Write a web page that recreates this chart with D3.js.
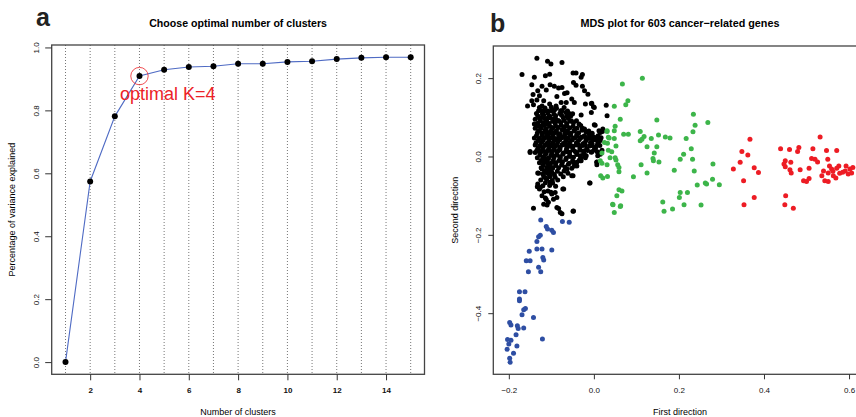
<!DOCTYPE html>
<html>
<head>
<meta charset="utf-8">
<script src="https://cdn.jsdelivr.net/npm/d3@7"></script>
<style>
body { margin: 0; background: #fff; }
svg { display: block; font-family: "Liberation Sans", Arial, sans-serif; }
</style>
</head>
<body>
<div id="viz"></div>
<script>
var width = 856,
  height = 417;

// panel a: elbow curve
var kValues = [1, 2, 3, 4, 5, 6, 7, 8, 9, 10, 11, 12, 13, 14, 15];
var varExplained = [0, 0.574, 0.781, 0.909, 0.929, 0.938, 0.940, 0.948, 0.948, 0.954, 0.956, 0.963, 0.967, 0.969, 0.969];
var optimalK = 4;
var xTicksA = [2, 4, 6, 8, 10, 12, 14];
var yTicksA = [0, 0.2, 0.4, 0.6, 0.8, 1.0];

// panel b: MDS coordinates per cluster [first, second]
var xTicksB = [-0.2, 0, 0.2, 0.4, 0.6];
var yTicksB = [-0.4, -0.2, 0, 0.2];

var blackGenes = [
  [-0.134, 0.251], [-0.109, 0.243], [-0.101, 0.236], [-0.075, 0.240], [-0.169, 0.209], [-0.140, 0.202], [-0.114, 0.206],
  [-0.104, 0.210], [-0.049, 0.213], [-0.042, 0.213], [-0.027, 0.209], [-0.030, 0.202], [-0.146, 0.183], [-0.122, 0.179],
  [-0.103, 0.183], [-0.093, 0.179], [-0.075, 0.176], [-0.048, 0.189], [-0.042, 0.182], [-0.027, 0.179], [-0.132, 0.168],
  [-0.112, 0.170], [-0.083, 0.175], [-0.063, 0.163], [-0.022, 0.168], [-0.014, 0.159], [-0.143, 0.158], [-0.128, 0.155],
  [-0.087, 0.153], [-0.069, 0.161], [-0.146, 0.142], [-0.134, 0.144], [-0.118, 0.142], [-0.052, 0.147], [-0.046, 0.138],
  [-0.077, 0.138], [-0.065, 0.138], [-0.020, 0.134], [-0.006, 0.135], [-0.156, 0.129], [-0.142, 0.132], [-0.122, 0.129],
  [-0.104, 0.134], [-0.089, 0.129], [-0.001, 0.127], [-0.130, 0.117], [-0.114, 0.117], [-0.099, 0.117], [-0.075, 0.117],
  [-0.058, 0.110], [-0.030, 0.106], [-0.006, 0.112], [0.029, 0.131], [-0.138, 0.095], [-0.122, 0.100], [-0.107, 0.100],
  [-0.095, 0.095], [-0.083, 0.091], [-0.053, 0.091], [-0.140, 0.083], [-0.126, 0.078], [-0.110, 0.083], [-0.099, 0.074],
  [-0.069, 0.076], [-0.046, 0.067], [-0.027, 0.072], [0.001, 0.081], [0.012, 0.066], [0.020, 0.064], [-0.130, 0.066],
  [-0.114, 0.061], [-0.103, 0.059], [-0.091, 0.061], [-0.079, 0.057], [-0.063, 0.059], [-0.040, 0.057], [-0.011, 0.057],
  [-0.005, 0.136], [0.001, 0.125], [0.031, 0.104], [0.003, 0.080], [0.021, 0.070], [0.015, 0.061], [0.011, 0.010],
  [0.009, 0.002], [0.007, -0.015], [-0.009, -0.068], [0.000, 0.050], [0.008, 0.040], [0.014, 0.028], [0.004, 0.022],
  [0.012, 0.045], [-0.004, 0.032],
  [-0.118, 0.048], [-0.107, 0.050], [-0.095, 0.047], [-0.083, 0.046], [-0.071, 0.049], [-0.060, 0.047], [-0.044, 0.048],
  [-0.032, 0.046], [-0.020, 0.049], [-0.009, 0.047], [0.003, 0.045], [0.017, 0.048],
  [-0.138, 0.029], [-0.126, 0.027], [-0.114, 0.030], [-0.103, 0.029], [-0.091, 0.028], [-0.075, 0.030], [-0.063, 0.029],
  [-0.051, 0.027], [-0.036, 0.030], [-0.020, 0.029], [-0.005, 0.028],
  [-0.150, 0.013], [-0.132, 0.014], [-0.114, 0.012], [-0.099, 0.013], [-0.083, 0.015], [-0.063, 0.012], [-0.044, 0.013],
  [-0.024, 0.014], [-0.005, 0.012], [0.007, 0.013],
  [-0.118, -0.003], [-0.107, -0.005], [-0.095, 0.002], [-0.079, -0.003], [-0.056, 0.000], [-0.032, 0.002], [-0.030, -0.011],
  [-0.020, -0.003], [0.007, -0.014], [-0.118, -0.015], [-0.107, -0.019], [-0.095, -0.015], [-0.075, -0.014], [-0.048, -0.015],
  [-0.040, -0.024], [-0.122, -0.032], [-0.107, -0.032], [-0.099, -0.028], [-0.063, -0.032], [-0.046, -0.024],
  [-0.132, -0.042], [-0.110, -0.042], [-0.099, -0.041], [-0.052, -0.049], [-0.114, -0.054], [-0.103, -0.051],
  [-0.132, -0.070], [-0.103, -0.066], [-0.010, -0.068], [-0.133, -0.077], [-0.128, -0.083], [-0.108, -0.088],
  [-0.071, -0.083], [-0.122, -0.100], [-0.114, -0.106], [-0.099, -0.096], [-0.091, -0.092], [-0.087, -0.105],
  [-0.118, -0.122], [-0.110, -0.124], [-0.107, -0.117], [-0.087, -0.130], [-0.142, -0.132], [-0.048, -0.139],
  [-0.083, -0.133], [-0.079, -0.143], [-0.075, -0.146], [-0.049, -0.140],
  [-0.150, 0.010], [-0.130, -0.043], [-0.049, -0.049], [-0.126, -0.079], [-0.073, -0.083],
  [-0.032, -0.011], [-0.018, 0.002], [0.015, 0.006], [0.019, 0.016], [0.007, -0.021],
  [-0.128, 0.125], [-0.115, 0.124], [-0.100, 0.126], [-0.088, 0.123], [-0.070, 0.125],
  [-0.135, 0.110], [-0.121, 0.109], [-0.108, 0.111], [-0.094, 0.108], [-0.080, 0.110], [-0.066, 0.112], [-0.050, 0.109],
  [-0.128, 0.098], [-0.116, 0.097], [-0.103, 0.099], [-0.090, 0.096], [-0.072, 0.099], [-0.060, 0.097],
  [-0.132, 0.085], [-0.119, 0.086], [-0.105, 0.084], [-0.091, 0.085], [-0.078, 0.087], [-0.064, 0.084], [-0.048, 0.086], [-0.035, 0.083],
  [-0.138, 0.072], [-0.124, 0.073], [-0.112, 0.071], [-0.097, 0.072], [-0.084, 0.074], [-0.071, 0.071], [-0.057, 0.073], [-0.040, 0.072], [-0.022, 0.070],
  [-0.133, 0.060], [-0.121, 0.059], [-0.108, 0.061], [-0.095, 0.060], [-0.082, 0.058], [-0.068, 0.061], [-0.054, 0.059], [-0.036, 0.060], [-0.018, 0.062], [-0.004, 0.059],
  [-0.140, 0.047], [-0.128, 0.046], [-0.115, 0.048], [-0.102, 0.047], [-0.089, 0.045], [-0.076, 0.048], [-0.062, 0.046], [-0.048, 0.047], [-0.030, 0.049], [-0.014, 0.046], [0.006, 0.047],
  [-0.136, 0.035], [-0.123, 0.036], [-0.110, 0.034], [-0.097, 0.035], [-0.085, 0.037], [-0.071, 0.034], [-0.057, 0.036], [-0.041, 0.035], [-0.025, 0.033], [-0.008, 0.036], [0.010, 0.034],
  [-0.131, 0.022], [-0.119, 0.023], [-0.106, 0.021], [-0.093, 0.022], [-0.079, 0.024], [-0.064, 0.021], [-0.050, 0.023], [-0.033, 0.022], [-0.017, 0.020], [0.002, 0.023],
  [-0.138, 0.010], [-0.125, 0.011], [-0.112, 0.009], [-0.099, 0.010], [-0.086, 0.012], [-0.072, 0.009], [-0.057, 0.011], [-0.041, 0.010], [-0.024, 0.008], [-0.006, 0.011],
  [-0.133, -0.003], [-0.120, -0.002], [-0.107, -0.004], [-0.094, -0.003], [-0.080, -0.001], [-0.065, -0.004], [-0.048, -0.002], [-0.031, -0.003],
  [-0.128, -0.016], [-0.115, -0.015], [-0.102, -0.017], [-0.089, -0.016], [-0.074, -0.014], [-0.058, -0.017], [-0.040, -0.015],
  [-0.124, -0.029], [-0.111, -0.028], [-0.097, -0.030], [-0.083, -0.029], [-0.068, -0.027], [-0.052, -0.030],
  [-0.120, -0.045], [-0.106, -0.044], [-0.093, -0.046], [-0.078, -0.045], [-0.061, -0.043],
  [-0.125, -0.060], [-0.111, -0.059], [-0.098, -0.061], [-0.085, -0.060],
  [-0.120, -0.075], [-0.104, -0.074], [-0.090, -0.076],
  [-0.117, -0.090], [-0.101, -0.091], [-0.112, -0.110], [-0.095, -0.109],
  [-0.122, 0.117], [-0.108, 0.116], [-0.093, 0.118], [-0.078, 0.117], [-0.062, 0.116],
  [-0.132, 0.104], [-0.118, 0.105], [-0.104, 0.103], [-0.090, 0.104], [-0.076, 0.105], [-0.064, 0.103], [-0.054, 0.104],
  [-0.126, 0.091], [-0.111, 0.092], [-0.097, 0.090], [-0.084, 0.091], [-0.070, 0.092], [-0.056, 0.090], [-0.041, 0.091],
  [-0.131, 0.078], [-0.117, 0.079], [-0.104, 0.077], [-0.090, 0.078], [-0.077, 0.080], [-0.063, 0.078], [-0.049, 0.077], [-0.031, 0.079],
  [-0.128, 0.066], [-0.115, 0.067], [-0.101, 0.065], [-0.088, 0.066], [-0.075, 0.068], [-0.062, 0.065], [-0.046, 0.066], [-0.028, 0.067], [-0.012, 0.065],
  [-0.135, 0.053], [-0.122, 0.054], [-0.110, 0.052], [-0.096, 0.053], [-0.083, 0.055], [-0.069, 0.052], [-0.055, 0.054], [-0.040, 0.053], [-0.023, 0.052], [-0.008, 0.054], [0.010, 0.053],
  [-0.131, 0.041], [-0.119, 0.042], [-0.106, 0.040], [-0.093, 0.041], [-0.080, 0.043], [-0.066, 0.040], [-0.051, 0.042], [-0.036, 0.041], [-0.019, 0.040], [-0.002, 0.042], [0.015, 0.041],
  [-0.127, 0.028], [-0.113, 0.029], [-0.100, 0.027], [-0.087, 0.028], [-0.072, 0.030], [-0.057, 0.027], [-0.042, 0.029], [-0.026, 0.028], [-0.010, 0.027], [0.008, 0.029],
  [-0.134, 0.016], [-0.121, 0.017], [-0.108, 0.015], [-0.094, 0.016], [-0.080, 0.018], [-0.065, 0.015], [-0.049, 0.017], [-0.033, 0.016], [-0.015, 0.015], [0.001, 0.017],
  [-0.127, 0.004], [-0.114, 0.005], [-0.101, 0.003], [-0.087, 0.004], [-0.073, 0.006], [-0.057, 0.003], [-0.040, 0.005], [-0.022, 0.004],
  [-0.124, -0.010], [-0.110, -0.009], [-0.096, -0.011], [-0.082, -0.010], [-0.066, -0.008], [-0.050, -0.011], [-0.034, -0.009],
  [-0.119, -0.022], [-0.105, -0.021], [-0.090, -0.023], [-0.076, -0.022], [-0.060, -0.020], [-0.045, -0.023],
  [-0.116, -0.037], [-0.101, -0.036], [-0.086, -0.038], [-0.070, -0.037],
  [-0.118, -0.052], [-0.104, -0.051], [-0.091, -0.053], [-0.072, -0.052],
  [-0.114, -0.067], [-0.097, -0.068]
];

var greenGenes = [
  [0.114, 0.200], [0.067, 0.185], [0.080, 0.142], [0.075, 0.132], [0.048, 0.128], [0.062, 0.095], [0.050, 0.077],
  [0.048, 0.066], [0.031, 0.064], [0.034, 0.049], [0.048, 0.046], [0.032, 0.034], [0.052, 0.027], [0.034, 0.016],
  [0.042, 0.012], [0.019, 0.009], [0.015, -0.011], [0.019, -0.017], [0.031, -0.021], [0.038, -0.003], [0.050, -0.003],
  [0.052, -0.009], [0.056, -0.021], [0.059, -0.028], [0.059, -0.039], [0.016, -0.049], [0.021, -0.055], [0.032, -0.051],
  [0.093, -0.052], [0.059, -0.085], [0.066, -0.088], [0.054, -0.100], [0.045, -0.123], [0.063, -0.126], [0.048, -0.143],
  [0.044, -0.122], [0.062, -0.128], [0.070, 0.057], [0.081, 0.057], [0.109, 0.064], [0.118, 0.051], [0.109, 0.040],
  [0.113, 0.044], [0.135, 0.046], [0.148, 0.093], [0.152, 0.055], [0.168, 0.050], [0.179, 0.047], [0.125, 0.025],
  [0.148, 0.025], [0.142, 0.009], [0.139, -0.005], [0.140, -0.011], [0.153, -0.014], [0.111, -0.021], [0.125, -0.042],
  [0.189, -0.035], [0.234, 0.108], [0.238, 0.080], [0.233, 0.063], [0.268, 0.087], [0.217, 0.046], [0.229, 0.020],
  [0.211, 0.006], [0.203, -0.007], [0.232, -0.007], [0.236, -0.037], [0.280, -0.019], [0.279, -0.058], [0.262, -0.068],
  [0.265, -0.070], [0.243, -0.073], [0.295, -0.072], [0.203, -0.092], [0.220, -0.092], [0.201, -0.105], [0.212, -0.123],
  [0.252, -0.124], [0.162, -0.116], [0.165, -0.140], [0.185, -0.134], [0.031, 0.066], [0.036, 0.047], [0.025, 0.036]
];

var redGenes = [
  [0.367, 0.044], [0.348, 0.013], [0.362, 0.004], [0.344, -0.015], [0.328, -0.032], [0.377, -0.029], [0.387, -0.041],
  [0.352, -0.062], [0.377, -0.105], [0.353, -0.123], [0.439, 0.020], [0.460, 0.018], [0.482, 0.023], [0.479, 0.013],
  [0.515, 0.020], [0.532, 0.050], [0.547, 0.015], [0.571, 0.015], [0.450, -0.011], [0.447, -0.019], [0.463, -0.015],
  [0.450, -0.026], [0.512, -0.005], [0.520, -0.007], [0.526, -0.014], [0.550, -0.007], [0.461, -0.034], [0.464, -0.042],
  [0.485, -0.034], [0.506, -0.030], [0.493, -0.062], [0.500, -0.064], [0.506, -0.056], [0.554, -0.024], [0.559, -0.032],
  [0.540, -0.037], [0.576, -0.024], [0.571, -0.030], [0.536, -0.049], [0.551, -0.042], [0.563, -0.049], [0.569, -0.055],
  [0.543, -0.062], [0.551, -0.064], [0.578, -0.043], [0.593, -0.024], [0.591, -0.037], [0.602, -0.032], [0.609, -0.028],
  [0.598, -0.045], [0.606, -0.042], [0.451, -0.100], [0.449, -0.123], [0.469, -0.132], [0.562, -0.038], [0.585, -0.040]
];

var blueGenes = [
  [-0.125, -0.162], [-0.112, -0.179], [-0.109, -0.185], [-0.099, -0.188], [-0.095, -0.194], [-0.074, -0.166],
  [-0.058, -0.168], [-0.130, -0.205], [-0.126, -0.201], [-0.134, -0.217], [-0.134, -0.236], [-0.122, -0.236],
  [-0.152, -0.242], [-0.099, -0.239], [-0.120, -0.258], [-0.118, -0.264], [-0.159, -0.266], [-0.150, -0.266],
  [-0.130, -0.283], [-0.125, -0.294], [-0.154, -0.294], [-0.175, -0.345], [-0.162, -0.345], [-0.175, -0.364],
  [-0.175, -0.368], [-0.161, -0.388], [-0.165, -0.391], [-0.169, -0.404], [-0.142, -0.411], [-0.198, -0.424],
  [-0.195, -0.430], [-0.180, -0.432], [-0.178, -0.439], [-0.165, -0.438], [-0.183, -0.455], [-0.121, -0.466],
  [-0.203, -0.467], [-0.195, -0.469], [-0.200, -0.479], [-0.181, -0.484], [-0.204, -0.492], [-0.189, -0.502],
  [-0.198, -0.515], [-0.197, -0.525]
];

var clusterColors = { black: '#000000', green: '#3db54a', red: '#ed1c24', blue: '#2e4ea3' };

var svg = d3.select('#viz').append('svg')
  .attr('width', width)
  .attr('height', height);

svg.append('rect')
  .attr('width', width)
  .attr('height', height)
  .attr('fill', '#fff');

// R style 4% padding around data range
function padded(ext) {
  var d = (ext[1] - ext[0]) * 0.04;
  return [ext[0] - d, ext[1] + d];
}

function styleAxis(g) {
  g.select('.domain').remove();
  g.selectAll('line').attr('stroke', '#333').attr('stroke-width', 1);
  g.selectAll('text').attr('font-size', 8).attr('fill', '#111');
}

function rotateYLabels(g, off) {
  g.selectAll('text')
    .attr('transform', 'rotate(-90)')
    .attr('x', 0)
    .attr('y', -off)
    .attr('dy', 0)
    .attr('text-anchor', 'middle');
}

// ---------- panel a ----------
var boxA = { left: 51.7, right: 424.5, top: 45, bottom: 374.3 };

var xA = d3.scaleLinear().domain(padded(d3.extent(kValues))).range([boxA.left, boxA.right]);
var yA = d3.scaleLinear().domain(padded(d3.extent(varExplained))).range([boxA.bottom, boxA.top]);

var panelA = svg.append('g');

panelA.selectAll('.vgrid')
  .data(kValues)
  .enter().append('line')
  .attr('class', 'vgrid')
  .attr('x1', function (d) { return xA(d); })
  .attr('x2', function (d) { return xA(d); })
  .attr('y1', boxA.top)
  .attr('y2', boxA.bottom)
  .attr('stroke', '#666')
  .attr('stroke-width', 0.9)
  .attr('stroke-dasharray', '1,2');

var elbow = kValues.map(function (k, i) { return [k, varExplained[i]]; });

panelA.append('path')
  .datum(elbow)
  .attr('fill', 'none')
  .attr('stroke', '#4f6bc4')
  .attr('stroke-width', 1.1)
  .attr('d', d3.line()
    .x(function (d) { return xA(d[0]); })
    .y(function (d) { return yA(d[1]); }));

panelA.selectAll('.kpt')
  .data(elbow)
  .enter().append('circle')
  .attr('class', 'kpt')
  .attr('cx', function (d) { return xA(d[0]); })
  .attr('cy', function (d) { return yA(d[1]); })
  .attr('r', 3)
  .attr('fill', '#000');

panelA.append('circle')
  .attr('cx', xA(optimalK))
  .attr('cy', yA(varExplained[optimalK - 1]))
  .attr('r', 8.7)
  .attr('fill', 'none')
  .attr('stroke', '#ec2227')
  .attr('stroke-width', 0.8);

panelA.append('text')
  .attr('x', 120)
  .attr('y', 99.5)
  .attr('font-size', 18)
  .attr('fill', '#ec2227')
  .text('optimal K=' + optimalK);

panelA.append('rect')
  .attr('x', boxA.left)
  .attr('y', boxA.top)
  .attr('width', boxA.right - boxA.left)
  .attr('height', boxA.bottom - boxA.top)
  .attr('fill', 'none')
  .attr('stroke', '#444')
  .attr('stroke-width', 1.3);

panelA.append('g')
  .attr('transform', 'translate(0,' + boxA.bottom + ')')
  .call(d3.axisBottom(xA).tickValues(xTicksA).tickSize(6).tickPadding(7.5).tickFormat(d3.format('d')))
  .call(styleAxis)
  .selectAll('text').attr('font-weight', 'bold');

panelA.append('g')
  .attr('transform', 'translate(' + boxA.left + ',0)')
  .call(d3.axisLeft(yA).tickValues(yTicksA).tickSize(6.5).tickFormat(d3.format('.1f')))
  .call(styleAxis)
  .call(rotateYLabels, 12.7);

panelA.append('text')
  .attr('x', (boxA.left + boxA.right) / 2)
  .attr('y', 26.5)
  .attr('text-anchor', 'middle')
  .attr('font-size', 10.6)
  .attr('font-weight', 'bold')
  .text('Choose optimal number of clusters');

panelA.append('text')
  .attr('x', (boxA.left + boxA.right) / 2)
  .attr('y', 415)
  .attr('text-anchor', 'middle')
  .attr('font-size', 9)
  .text('Number of clusters');

panelA.append('text')
  .attr('transform', 'translate(15,' + ((boxA.top + boxA.bottom) / 2) + ') rotate(-90)')
  .attr('text-anchor', 'middle')
  .attr('font-size', 9)
  .text('Percentage of variance explained');

panelA.append('text')
  .attr('x', 36)
  .attr('y', 26)
  .attr('font-size', 25)
  .attr('font-weight', 'bold')
  .attr('fill', '#222')
  .text('a');

// ---------- panel b ----------
var boxB = { left: 493.3, right: 866.7, top: 46, bottom: 374.3 };

var allGenes = blackGenes.concat(greenGenes, redGenes, blueGenes);
var xB = d3.scaleLinear()
  .domain(padded(d3.extent(allGenes, function (d) { return d[0]; })))
  .range([boxB.left, boxB.right]);
var yB = d3.scaleLinear()
  .domain(padded(d3.extent(allGenes, function (d) { return d[1]; })))
  .range([boxB.bottom, boxB.top]);

var panelB = svg.append('g');

var groups = [
  { key: 'black', pts: blackGenes },
  { key: 'green', pts: greenGenes },
  { key: 'red', pts: redGenes },
  { key: 'blue', pts: blueGenes }
];

groups.forEach(function (grp) {
  panelB.append('g').selectAll('circle')
    .data(grp.pts)
    .enter().append('circle')
    .attr('cx', function (d) { return xB(d[0]); })
    .attr('cy', function (d) { return yB(d[1]); })
    .attr('r', 2.5)
    .attr('fill', clusterColors[grp.key]);
});

panelB.append('rect')
  .attr('x', boxB.left)
  .attr('y', boxB.top)
  .attr('width', boxB.right - boxB.left)
  .attr('height', boxB.bottom - boxB.top)
  .attr('fill', 'none')
  .attr('stroke', '#444')
  .attr('stroke-width', 1.3);

panelB.append('g')
  .attr('transform', 'translate(0,' + boxB.bottom + ')')
  .call(d3.axisBottom(xB).tickValues(xTicksB).tickSize(5).tickPadding(8.5).tickFormat(d3.format('.1f')))
  .call(styleAxis);

panelB.append('g')
  .attr('transform', 'translate(' + boxB.left + ',0)')
  .call(d3.axisLeft(yB).tickValues(yTicksB).tickSize(5).tickFormat(d3.format('.1f')))
  .call(styleAxis)
  .call(rotateYLabels, 12.8);

panelB.append('text')
  .attr('x', (boxB.left + boxB.right) / 2)
  .attr('y', 26.5)
  .attr('text-anchor', 'middle')
  .attr('font-size', 10.8)
  .attr('font-weight', 'bold')
  .text('MDS plot for 603 cancer\u2212related genes');

panelB.append('text')
  .attr('x', (boxB.left + boxB.right) / 2)
  .attr('y', 415)
  .attr('text-anchor', 'middle')
  .attr('font-size', 9)
  .text('First direction');

panelB.append('text')
  .attr('transform', 'translate(457.5,' + ((boxB.top + boxB.bottom) / 2) + ') rotate(-90)')
  .attr('text-anchor', 'middle')
  .attr('font-size', 9)
  .text('Second direction');

panelB.append('text')
  .attr('x', 490)
  .attr('y', 31.5)
  .attr('font-size', 25)
  .attr('font-weight', 'bold')
  .attr('fill', '#222')
  .text('b');
</script>
</body>
</html>
